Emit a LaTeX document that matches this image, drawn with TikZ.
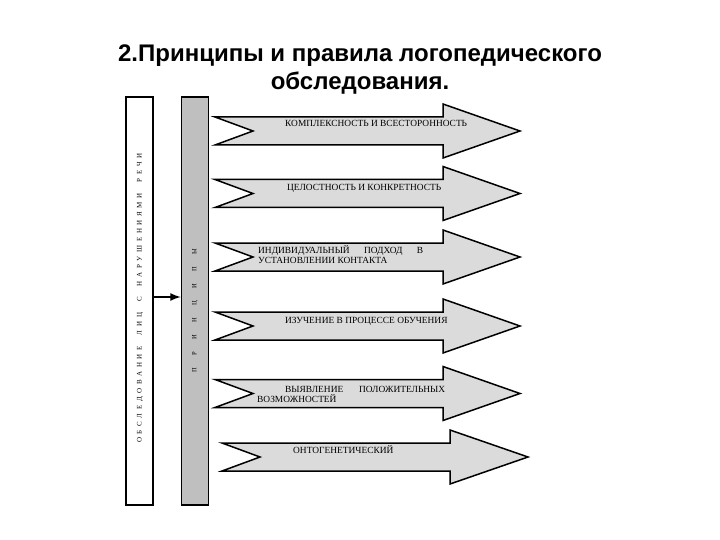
\documentclass[tikz,border=0pt]{standalone}
\usepackage{fontspec}
\setmainfont{Liberation Serif}
\newfontfamily\titlefont{Liberation Sans}
\newfontfamily\spacedfont[LetterSpace=53,WordSpace=2]{Liberation Serif}
\newfontfamily\widefont[LetterSpace=190]{Liberation Serif}
\usetikzlibrary{shapes,arrows,positioning,calc}
\tikzset{
    column/.style={
        rectangle,
        draw,
        line width=1.5pt,
        minimum width=27pt,
        minimum height=408pt,
        inner sep=0pt
    },
    bigarrow/.style={
        draw,
        line width=1.5pt,
        fill=gray!28
    },
    arrowtext/.style={
        anchor=base west,
        inner sep=0pt,
        font=\fontsize{9.4}{10}\selectfont % small caps text inside the arrows
    }
}

\begin{document}
\begin{tikzpicture}[x=1pt, y=-1pt]
    \useasboundingbox (0,0) rectangle (720,540);
    \node (title) [anchor=north, inner sep=0pt, align=center, font=\titlefont\bfseries\fontsize{24}{28}\selectfont] at (360,45) {2.Принципы и правила логопедического\\обследования.};

    \node (survey) [column] at (139.5,301) {};
    \node (principles) [column, right=27pt of survey, fill=gray!50] {};
    \node (surveytext) [rotate=90, inner sep=0pt, font=\spacedfont\fontsize{7}{7}\selectfont] at (140,298) {ОБСЛЕДОВАНИЕ ЛИЦ С НАРУШЕНИЯМИ РЕЧИ};
    \node (principlestext) [rotate=90, inner sep=0pt, font=\widefont\fontsize{6.5}{6.5}\selectfont] at (195,311) {ПРИНЦИПЫ};

    \draw [line width=2.5pt, -latex] ([yshift=4pt]survey.east) -- ([yshift=4pt]principles.west);

    \foreach \c/\l/\h/\t in {131/215/443/520, 193.5/215/443/520, 257/215/443/520, 326/215/443/520, 393.5/215/443/520, 457/222/450/528}
        \draw [bigarrow] (\l,\c-14) -- (\h,\c-14) -- (\h,\c-27) -- (\t,\c) -- (\h,\c+27) -- (\h,\c+14) -- (\l,\c+14) -- (\l+38,\c) -- cycle;

    \node (p1) [arrowtext] at (285,127) {КОМПЛЕКСНОСТЬ И ВСЕСТОРОННОСТЬ};
    \node (p2) [arrowtext] at (287,191) {ЦЕЛОСТНОСТЬ И КОНКРЕТНОСТЬ};
    \node (p3) [arrowtext, text width=165pt, align=justify] at (258,253) {ИНДИВИДУАЛЬНЫЙ ПОДХОД В\linebreak УСТАНОВЛЕНИИ КОНТАКТА};
    \node (p4) [arrowtext] at (285,323) {ИЗУЧЕНИЕ В ПРОЦЕССЕ ОБУЧЕНИЯ};
    \node (p5) [arrowtext, text width=188pt, align=justify] at (257,392) {\hspace*{28pt}ВЫЯВЛЕНИЕ ПОЛОЖИТЕЛЬНЫХ\linebreak ВОЗМОЖНОСТЕЙ};
    \node (p6) [arrowtext] at (293,453) {ОНТОГЕНЕТИЧЕСКИЙ};
\end{tikzpicture}
\end{document}
